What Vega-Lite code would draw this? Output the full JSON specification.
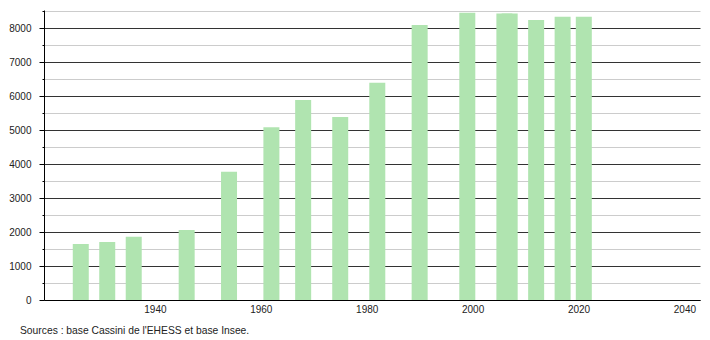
{
  "$schema": "https://vega.github.io/schema/vega-lite/v6.json",
  "width": 656,
  "height": 290,
  "autosize": {"type": "none"},
  "padding": {"left": 44, "top": 10, "right": 10, "bottom": 40},
  "background": "white",
  "title": {
    "text": "Sources : base Cassini de l'EHESS et base Insee.",
    "orient": "bottom",
    "anchor": "start",
    "frame": "group",
    "dx": -24,
    "offset": 12,
    "font": "Liberation Sans",
    "fontSize": 10.3,
    "fontWeight": "normal",
    "color": "#222"
  },
  "data": {
    "values": [
      {"annee": 1926, "population": 1650},
      {"annee": 1931, "population": 1710},
      {"annee": 1936, "population": 1860},
      {"annee": 1946, "population": 2060},
      {"annee": 1954, "population": 3780},
      {"annee": 1962, "population": 5090},
      {"annee": 1968, "population": 5890},
      {"annee": 1975, "population": 5390},
      {"annee": 1982, "population": 6400},
      {"annee": 1990, "population": 8100},
      {"annee": 1999, "population": 8460},
      {"annee": 2006, "population": 8440},
      {"annee": 2007, "population": 8440},
      {"annee": 2012, "population": 8245},
      {"annee": 2017, "population": 8340},
      {"annee": 2021, "population": 8340}
    ]
  },
  "mark": {"type": "bar", "size": 16, "color": "#b0e4b0", "orient": "vertical"},
  "encoding": {
    "x": {
      "field": "annee",
      "type": "quantitative",
      "scale": {"domain": [1920, 2042], "nice": false, "zero": false},
      "axis": {
        "title": null,
        "values": [1940, 1960, 1980, 2000, 2020, 2040],
        "format": "d",
        "grid": false,
        "ticks": false,
        "labelPadding": 4,
        "labelFlush": false,
        "domainColor": "#000",
        "labelFont": "Liberation Sans",
        "labelFontSize": 10,
        "labelColor": "#222"
      }
    },
    "y": {
      "field": "population",
      "type": "quantitative",
      "scale": {"domain": [0, 8540], "nice": false},
      "axis": {
        "title": null,
        "values": [0, 500, 1000, 1500, 2000, 2500, 3000, 3500, 4000, 4500, 5000, 5500, 6000, 6500, 7000, 7500, 8000, 8500],
        "labelExpr": "datum.value % 1000 === 0 ? datum.value : ''",
        "grid": true,
        "gridColor": {"condition": {"test": "datum.value % 1000 === 0", "value": "#333333"}, "value": "#cccccc"},
        "gridWidth": 1,
        "tickSize": {"condition": {"test": "datum.value % 1000 === 0", "value": 5}, "value": 2},
        "tickColor": "#000",
        "domainColor": "#000",
        "labelPadding": 8,
        "labelFont": "Liberation Sans",
        "labelFontSize": 10,
        "labelColor": "#222"
      }
    }
  },
  "config": {"view": {"stroke": null}}
}
